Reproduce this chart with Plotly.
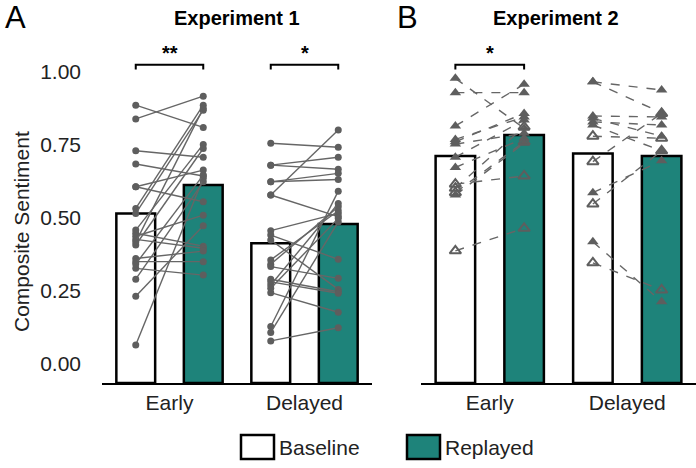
import plotly.graph_objects as go

# ---------------- data ----------------
conditions = ["Early", "Delayed"]
bar_positions = [0, 1, 2, 3]  # Early-Baseline, Early-Replayed, Delayed-Baseline, Delayed-Replayed

exp1_bars = [0.515, 0.612, 0.413, 0.479]
exp2_bars = [0.711, 0.783, 0.720, 0.711]

# Experiment 1 participants (baseline, replayed)
exp1_early_base = [0.885, 0.838, 0.729, 0.684, 0.606, 0.606, 0.532, 0.515, 0.458, 0.447, 0.426,
                   0.407, 0.361, 0.350, 0.327, 0.290, 0.232, 0.065, 0.437, 0.342, 0.417]
exp1_early_rep = [0.809, 0.916, 0.707, 0.643, 0.663, 0.555, 0.885, 0.868, 0.751, 0.403, 0.396,
                  0.737, 0.386, 0.350, 0.304, 0.623, 0.473, 0.635, 0.509, 0.646, 0.874]
exp1_delayed_base = [0.755, 0.680, 0.680, 0.623, 0.623, 0.578, 0.578, 0.456, 0.441, 0.424, 0.356,
                     0.341, 0.333, 0.290, 0.281, 0.270, 0.244, 0.128, 0.108, 0.079, 0.259]
exp1_delayed_rep = [0.741, 0.707, 0.666, 0.652, 0.631, 0.800, 0.504, 0.515, 0.358, 0.255, 0.524,
                    0.538, 0.293, 0.247, 0.242, 0.549, 0.177, 0.591, 0.486, 0.124, 0.498]

# Experiment 2 participants (baseline, replayed, filled marker?)
exp2_early_base = [0.977, 0.928, 0.814, 0.768, 0.760, 0.752, 0.707, 0.672, 0.578, 0.615, 0.601, 0.586, 0.387]
exp2_early_rep = [0.806, 0.928, 0.957, 0.845, 0.857, 0.789, 0.834, 0.772, 0.755, 0.643, 0.811, 0.760, 0.464]
exp2_early_filled = [1, 1, 1, 1, 1, 1, 1, 1, 1, 0, 0, 0, 0]
exp2_delayed_base = [0.965, 0.965, 0.848, 0.840, 0.828, 0.817, 0.779, 0.692, 0.586, 0.547, 0.418, 0.346]
exp2_delayed_rep = [0.937, 0.859, 0.845, 0.779, 0.817, 0.729, 0.772, 0.857, 0.695, 0.729, 0.213, 0.253]
exp2_delayed_filled = [1, 1, 1, 1, 1, 1, 0, 0, 1, 0, 1, 0]

# significance brackets: (panel, left bar, right bar, label)
sig_brackets = [("A", 0, 1, "**"), ("A", 2, 3, "*"), ("B", 0, 1, "*")]

y_ticks = [0, 0.25, 0.5, 0.75, 1.0]
y_ticktext = ["0.00", "0.25", "0.50", "0.75", "1.00"]

# ---------------- style ----------------
TEAL = "#1e837a"
PT = "#5e5e5e"
LN = "#666666"
FONT = "Liberation Sans, Arial, sans-serif"
YMIN, YMAX = -0.065, 1.108
W, H = 696, 468
BAR_W = 0.575
bar_fill = ["white", TEAL, "white", TEAL]


def px(x):
    return x / W


def py(y):
    return 1 - y / H


fig = go.Figure()


def add_bars(vals, xa, ya):
    fig.add_trace(go.Bar(
        x=bar_positions, y=[v - YMIN for v in vals], base=YMIN, width=BAR_W,
        marker=dict(color=bar_fill, line=dict(color="black", width=2.5)),
        xaxis=xa, yaxis=ya, showlegend=False, hoverinfo="skip"))


add_bars(exp1_bars, "x", "y")
add_bars(exp2_bars, "x2", "y2")


def add_pairs(base, rep, x0, xa, ya, dash, symbols):
    for i, (b, r) in enumerate(zip(base, rep)):
        sym = symbols[i] if isinstance(symbols, list) else symbols
        tri = "triangle" in sym
        fig.add_trace(go.Scatter(
            x=[x0, x0 + 1], y=[b, r], mode="lines+markers",
            line=dict(color=LN, width=1.4, dash=dash),
            marker=dict(symbol=sym, size=10 if tri else 7, color=PT,
                        line=dict(color=PT, width=2 if "open" in sym else 0)),
            xaxis=xa, yaxis=ya, showlegend=False, hoverinfo="skip"))


add_pairs(exp1_early_base, exp1_early_rep, 0, "x", "y", "solid", "circle")
add_pairs(exp1_delayed_base, exp1_delayed_rep, 2, "x", "y", "solid", "circle")
tri = lambda f: ["triangle-up" if v else "triangle-up-open" for v in f]
add_pairs(exp2_early_base, exp2_early_rep, 0, "x2", "y2", "dash", tri(exp2_early_filled))
add_pairs(exp2_delayed_base, exp2_delayed_rep, 2, "x2", "y2", "dash", tri(exp2_delayed_filled))

annotations = []
for panel, l, r, lab in sig_brackets:
    xa, ya = ("x", "y") if panel == "A" else ("x2", "y2")
    fig.add_trace(go.Scatter(
        x=[l, l, r, r], y=[1.007, 1.023, 1.023, 1.007], mode="lines",
        line=dict(color="black", width=2), xaxis=xa, yaxis=ya,
        showlegend=False, hoverinfo="skip"))
    annotations.append(dict(x=(l + r) / 2, y=1.062, xref=xa, yref=ya, text="<b>%s</b>" % lab,
                            xanchor="center", yanchor="middle",
                            showarrow=False, font=dict(size=20, color="black", family=FONT)))

xdomA = [px(102), px(372)]
xdomB = [px(421), 1.0]
ydom = [py(383), py(40)]

axis_common = dict(range=[-0.5, 3.5], tickvals=[0.5, 2.5], ticktext=conditions,
                   showline=True, linecolor="black", linewidth=2, showgrid=False,
                   zeroline=False, ticks="", tickfont=dict(size=21, color="#222", family=FONT),
                   fixedrange=True)
yaxis_common = dict(range=[YMIN, YMAX], showgrid=False, zeroline=False, showline=False,
                    tickvals=y_ticks, ticktext=y_ticktext, ticks="", fixedrange=True)

fig.update_layout(
    width=W, height=H, margin=dict(l=0, r=0, t=0, b=0),
    paper_bgcolor="white", plot_bgcolor="white",
    font=dict(family=FONT, color="#222"),
    bargap=0,
    xaxis=dict(domain=xdomA, anchor="y", **axis_common),
    xaxis2=dict(domain=xdomB, anchor="y2", **axis_common),
    yaxis=dict(domain=ydom, anchor="x", ticklabelstandoff=20,
               tickfont=dict(size=21, color="#222", family=FONT), **yaxis_common),
    yaxis2=dict(domain=ydom, anchor="x2", showticklabels=False, **yaxis_common),
)

cm = dict(xref="paper", yref="paper", showarrow=False, xanchor="center", yanchor="middle")
annotations += [
    dict(x=(xdomA[0] + xdomA[1]) / 2, y=py(18), text="<b>Experiment 1</b>",
         font=dict(size=20, color="black", family=FONT), **cm),
    dict(x=(xdomB[0] + xdomB[1]) / 2 - 3 / W, y=py(18), text="<b>Experiment 2</b>",
         font=dict(size=20, color="black", family=FONT), **cm),
    dict(x=px(15), y=py(18), text="A", font=dict(size=31, color="black", family=FONT), **cm),
    dict(x=px(407), y=py(18), text="B", font=dict(size=31, color="black", family=FONT), **cm),
    dict(x=px(21), y=py(232), text="Composite Sentiment", textangle=-90,
         font=dict(size=21, color="#222", family=FONT), **cm),
]

# legend (custom swatches)
legend_items = [("Baseline", "white", 241), ("Replayed", TEAL, 407)]
shapes = []
for name, col, x0 in legend_items:
    shapes.append(dict(type="rect", xref="paper", yref="paper",
                       x0=px(x0), x1=px(x0 + 33), y0=py(459), y1=py(435),
                       fillcolor=col, line=dict(color="black", width=2.5)))
    annotations.append(dict(x=px(x0 + 36), y=py(447), xref="paper", yref="paper", text=name,
                            xanchor="left", yanchor="middle", showarrow=False,
                            font=dict(size=21, color="#222", family=FONT)))

fig.update_layout(annotations=annotations, shapes=shapes)
fig.write_html("out.html", config={"displayModeBar": False, "staticPlot": True},
               post_script="document.body.style.margin='0';document.body.style.overflow='hidden';")
